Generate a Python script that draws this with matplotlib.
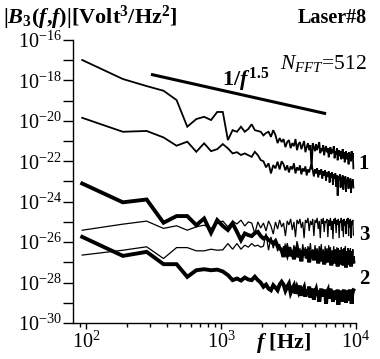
import numpy as np
import matplotlib
matplotlib.use("Agg")
import matplotlib.pyplot as plt
from matplotlib.ticker import LogLocator, FixedLocator, NullFormatter

plt.rcParams.update({
    "font.family": ["Liberation Serif", "DejaVu Serif"],
    "mathtext.fontset": "custom",
    "mathtext.rm": "Liberation Serif",
    "mathtext.it": "Liberation Serif:italic",
    "mathtext.bf": "Liberation Serif:bold",
    "mathtext.bfit": "Liberation Serif:italic:bold",
})

# FFT bin frequencies (48 kHz sampling, 512-point FFT)
fs = 48000.0
nfft = 512
freq = np.arange(1, 103) * fs / nfft

# log10 of |B3(f,f)| for each trace
curve1_upper = [
    -16.99, -17.93, -18.28, -18.51, -18.97, -20.29, -19.91, -19.80, -19.96, -19.56,
    -19.56, -20.95, -20.46, -20.54, -20.29, -20.54, -20.40, -20.17, -20.46, -20.50,
    -20.54, -20.72, -20.60, -20.54, -20.79, -20.46, -20.70, -21.10, -20.85, -21.05,
    -20.90, -21.30, -21.05, -20.95, -21.35, -21.10, -21.25, -20.90, -21.45, -21.15,
    -21.05, -21.40, -21.20, -21.00, -21.55, -21.30, -21.10, -21.45, -21.20, -22.40,
    -21.10, -21.30, -21.50, -21.15, -21.45, -21.25, -21.05, -21.60, -21.35, -21.50,
    -21.20, -21.70, -21.40, -21.25, -21.55, -21.35, -21.80, -21.45, -21.30, -21.65,
    -21.40, -21.55, -21.25, -21.85, -21.50, -21.65, -21.35, -21.95, -21.55, -21.45,
    -21.75, -21.50, -21.90, -21.60, -21.40, -21.85, -21.55, -22.05, -21.65, -21.50,
    -21.90, -21.60, -21.75, -22.15, -21.55, -21.85, -21.65, -22.00, -21.50, -21.80,
    -21.60, -22.35,
]
curve1_lower = [
    -19.85, -20.54, -20.50, -20.82, -21.23, -21.03, -21.53, -21.11, -21.50, -21.40,
    -21.15, -21.36, -21.61, -21.55, -21.69, -21.61, -21.70, -21.78, -21.53, -21.70,
    -21.94, -22.00, -22.30, -22.10, -22.60, -22.19, -22.35, -22.02, -22.40, -22.00,
    -22.15, -22.45, -22.20, -22.55, -22.25, -22.40, -22.10, -22.60, -22.30, -22.45,
    -22.20, -22.65, -22.35, -22.50, -22.25, -22.70, -22.40, -22.55, -22.30, -22.15,
    -22.45, -22.75, -22.40, -22.60, -22.35, -22.80, -22.45, -22.65, -22.40, -22.85,
    -22.50, -22.70, -22.45, -22.95, -22.55, -22.75, -22.50, -23.05, -22.60, -22.80,
    -22.55, -23.15, -22.65, -22.85, -22.60, -23.25, -22.70, -23.70, -22.75, -22.90,
    -22.65, -23.30, -22.80, -22.95, -22.70, -23.40, -22.85, -23.10, -22.75, -23.50,
    -22.90, -23.05, -22.80, -23.35, -22.95, -23.15, -22.85, -23.55, -23.00, -23.20,
    -22.90, -23.30,
]
curve3_thick = [
    -23.10, -24.03, -23.89, -25.04, -24.71, -24.71, -25.16, -24.83, -25.54, -24.91,
    -25.20, -25.40, -25.07, -25.49, -25.90, -25.57, -25.65, -25.70, -25.55, -25.49,
    -25.70, -25.82, -25.75, -25.90, -25.95, -26.07, -25.95, -26.20, -26.30, -26.40,
    -26.73, -26.35, -26.60, -26.25, -26.70, -26.40, -26.85, -26.45, -26.30, -26.75,
    -26.50, -26.95, -26.40, -26.65, -26.35, -26.80, -26.50, -27.00, -26.45, -26.70,
    -26.40, -26.90, -26.55, -26.75, -26.45, -27.05, -26.60, -26.80, -26.50, -26.95,
    -26.55, -27.10, -26.60, -26.85, -26.50, -27.00, -26.65, -26.90, -26.55, -27.15,
    -26.60, -26.85, -26.55, -27.05, -26.70, -26.95, -26.60, -27.20, -26.65, -26.90,
    -26.55, -27.10, -26.70, -26.95, -26.60, -27.15, -26.75, -26.90, -26.65, -27.25,
    -26.70, -27.00, -26.60, -27.10, -26.75, -26.95, -26.65, -27.20, -26.80, -27.00,
    -26.70, -26.97,
]
curve3_thin = [
    -25.41, -25.11, -24.96, -25.32, -25.19, -25.41, -25.24, -25.16, -25.32, -25.07,
    -24.96, -25.24, -24.96, -25.10, -24.91, -25.20, -25.00, -25.05, -25.57, -25.00,
    -25.30, -25.05, -25.45, -24.95, -25.20, -25.60, -25.00, -25.35, -24.90, -25.25,
    -25.05, -25.70, -24.95, -25.15, -24.85, -25.40, -25.00, -25.75, -24.90, -25.10,
    -24.85, -25.30, -25.00, -25.80, -24.90, -25.05, -24.80, -25.45, -24.95, -25.15,
    -24.85, -25.70, -24.90, -25.05, -24.80, -25.35, -24.95, -25.80, -24.85, -25.10,
    -24.80, -25.50, -24.95, -25.05, -24.85, -25.75, -24.90, -25.20, -24.80, -25.40,
    -24.95, -25.85, -24.85, -25.10, -24.80, -25.55, -24.90, -25.15, -24.85, -25.80,
    -24.95, -25.05, -24.80, -25.45, -24.90, -25.75, -24.85, -25.20, -24.95, -25.60,
    -24.85, -25.10, -24.80, -25.70, -24.90, -25.30, -24.85, -25.80, -24.95, -25.15,
    -24.90, -25.65,
]
curve2_thick = [
    -25.74, -26.68, -26.48, -27.09, -27.09, -27.72, -27.39, -27.34, -27.39, -27.36,
    -27.45, -27.63, -27.88, -27.80, -27.90, -27.75, -27.85, -27.88, -27.71, -27.88,
    -28.00, -28.21, -28.10, -28.30, -28.38, -28.13, -28.25, -28.38, -28.10, -27.96,
    -28.10, -28.40, -28.20, -28.05, -28.50, -28.30, -28.15, -28.55, -28.25, -28.45,
    -28.15, -28.65, -28.40, -28.25, -28.70, -28.35, -28.55, -28.20, -28.75, -28.45,
    -28.30, -28.85, -28.50, -28.35, -28.65, -28.40, -28.95, -28.55, -28.30, -28.70,
    -28.45, -28.60, -28.35, -29.05, -28.50, -28.40, -28.80, -28.55, -28.30, -28.75,
    -28.45, -28.95, -28.60, -28.40, -28.85, -28.50, -28.70, -28.35, -29.10, -28.55,
    -28.45, -28.80, -28.40, -28.65, -28.95, -28.50, -28.35, -28.75, -28.55, -29.00,
    -28.45, -28.70, -28.40, -28.90, -28.60, -28.35, -28.80, -28.50, -29.05, -28.60,
    -28.45, -28.38,
]
curve2_thin = [
    -26.64, -26.40, -26.23, -26.81, -26.27, -26.27, -26.43, -26.43, -26.35, -26.40,
    -26.38, -26.07, -26.35, -26.07, -26.35, -26.15, -26.25, -26.07, -26.20, -26.15,
    -26.25, -26.20, -25.57, -26.40, -25.74, -26.30, -25.90, -26.45, -26.10, -26.55,
    -26.20, -26.60, -26.05, -26.45, -26.25, -26.70, -26.15, -26.50, -25.95, -26.65,
    -26.30, -26.75, -26.10, -26.55, -26.25, -26.80, -26.20, -26.50, -26.05, -26.70,
    -26.35, -26.85, -26.15, -26.60, -26.30, -26.75, -26.20, -26.55, -26.10, -26.80,
    -26.35, -26.90, -26.20, -26.65, -26.30, -26.85, -26.15, -26.60, -26.25, -26.90,
    -26.40, -26.70, -26.20, -26.95, -26.35, -26.75, -26.25, -26.85, -26.30, -26.65,
    -26.40, -27.00, -26.25, -26.80, -26.35, -26.90, -26.30, -26.75, -26.20, -26.95,
    -26.45, -26.80, -26.30, -27.05, -26.40, -26.85, -26.30, -26.95, -26.45, -26.80,
    -26.35, -26.90,
]

# reference power-law slope 1/f^1.5
slope_f = [303.0, 6000.0]
slope_start = -17.70
slope_exp = 1.5

fig = plt.figure(figsize=(3.8, 3.59), dpi=100)
ax = fig.add_axes([73 / 380, 1 - 323 / 359, (356 - 73) / 380, (323 - 40) / 359])

traces = [
    (curve1_upper, 1.3),
    (curve1_lower, 1.3),
    (curve3_thin, 0.9),
    (curve2_thin, 0.9),
    (curve3_thick, 2.8),
    (curve2_thick, 2.8),
]
for vals, lw in traces:
    ax.plot(freq, 10.0 ** np.asarray(vals), color="black", lw=lw,
            solid_joinstyle="miter")

sf = np.asarray(slope_f)
ax.plot(sf, 10.0 ** (slope_start - slope_exp * np.log10(sf / sf[0])),
        color="black", lw=2.2, solid_capstyle="butt")

ax.set_xscale("log")
ax.set_yscale("log")
ax.set_xlim(10 ** (2 - 13 / 135), 1e4)
ax.set_ylim(1e-30, 1e-16)

for s in ("top", "right"):
    ax.spines[s].set_visible(False)
for s in ("left", "bottom"):
    ax.spines[s].set_linewidth(1.0)

ax.yaxis.set_major_locator(FixedLocator([10.0 ** e for e in range(-30, -15, 2)]))
ax.yaxis.set_minor_locator(FixedLocator([10.0 ** e for e in range(-29, -16, 2)]))
ax.yaxis.set_minor_formatter(NullFormatter())
ax.set_yticklabels([rf"$10^{{{e}}}$" for e in range(-30, -15, 2)])
ax.xaxis.set_major_locator(FixedLocator([1e2, 1e3, 1e4]))
ax.xaxis.set_minor_locator(LogLocator(base=10, subs=np.arange(2, 10), numticks=20))
ax.xaxis.set_minor_formatter(NullFormatter())
ax.set_xticklabels([r"$10^{2}$", r"$10^{3}$", r"$10^{4}$"])

ax.tick_params(axis="y", which="both", direction="out", length=7, width=1.0,
               labelsize=14.5, pad=1)
ax.tick_params(axis="x", which="major", direction="out", length=4, width=1.0,
               labelsize=14.5, pad=2)
ax.tick_params(axis="x", which="minor", direction="out", length=3, width=1.0)

fig.text(3 / 380, 1 - 18 / 359,
         r"$\mathbf{|}\mathbfit{B}_{\mathbf{3}}\mathbf{(}\mathbfit{f}\mathbf{,}"
         r"\mathbfit{f}\mathbf{)|[Volt}^{\mathbf{3}}\mathbf{/Hz}^{\mathbf{2}}\mathbf{]}$",
         fontsize=16, ha="left", va="center")
fig.text(367 / 380, 1 - 18 / 359, "Laser#8", fontsize=14.5, fontweight="bold",
         ha="right", va="center")
fig.text(367 / 380, 1 - 63 / 359, r"$N_{FFT}$=512", fontsize=15.5,
         ha="right", va="center")
fig.text(246 / 380, 1 - 80 / 359, r"$\mathbf{1/}\mathbfit{f}^{\,\mathbf{1.5}}$",
         fontsize=16, ha="center", va="center")
fig.text(284 / 380, 1 - 343 / 359, r"$\mathbfit{f}$ [Hz]", fontsize=16,
         fontweight="bold", ha="center", va="center")
for lab, yc in (("1", 164), ("3", 235), ("2", 279)):
    fig.text(364 / 380, 1 - yc / 359, lab, fontsize=15, fontweight="bold",
             ha="center", va="center")

fig.savefig("out.png", dpi=100)
